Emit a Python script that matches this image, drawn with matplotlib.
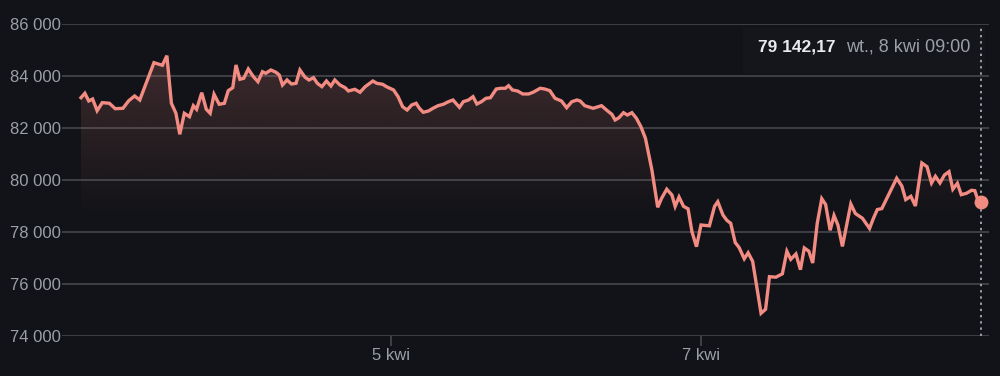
import numpy as np
import matplotlib
matplotlib.use("Agg")
import matplotlib.pyplot as plt
from matplotlib.patches import Polygon, Rectangle

# Price readings, hours counted from 3 kwi 00:00
hours = [0.0, 0.6, 1.2, 1.8, 2.5, 3.3, 4.4, 5.3, 6.5, 7.4, 8.3, 9.1, 11.3, 12.6, 13.3,
         14.0, 14.7, 15.3, 16.0, 16.8, 17.4, 17.9, 18.7, 19.4, 20.0, 20.6, 21.4, 22.2,
         22.8, 23.5, 24.0, 24.6, 25.2, 25.9, 26.7, 27.4, 28.1, 28.6, 29.4, 30.2, 30.7,
         31.2, 31.9, 32.6, 33.3, 33.9, 34.7, 35.3, 36.0, 36.6, 37.3, 38.0, 38.7, 39.3,
         40.1, 40.9, 41.4, 42.4, 43.2, 44.0, 45.2, 45.8, 46.7, 47.3, 48.4, 49.1, 49.8,
         50.5, 51.2, 51.9, 52.4, 53.0, 53.8, 54.5, 55.3, 56.1, 56.9, 57.6, 58.6, 59.2,
         60.0, 60.7, 61.3, 62.0, 62.7, 63.4, 64.3, 65.0, 65.7, 66.2, 66.8, 67.6, 68.4,
         69.3, 70.0, 71.1, 71.8, 72.6, 73.4, 74.4, 75.2, 76.0, 76.8, 77.3, 78.0, 79.3,
         80.6, 81.5, 82.2, 82.7, 83.3, 84.0, 84.6, 85.3, 86.0, 86.7, 87.4, 88.4, 89.3,
         89.9, 90.7, 91.5, 92.0, 92.6, 93.3, 94.0, 94.6, 95.3, 96.0, 97.3, 98.1, 98.6,
         99.4, 100.0, 100.6, 101.3, 101.9, 102.7, 103.3, 104.0, 105.3, 106.0, 106.6,
         107.6, 108.6, 109.3, 109.9, 110.7, 111.4, 112.0, 112.7, 113.3, 114.0, 114.7,
         115.3, 116.0, 116.6, 117.2, 117.9, 119.2, 119.9, 121.0, 122.1, 122.7, 123.3,
         124.0, 126.3, 127.1, 127.7, 128.5, 129.2, 130.2, 131.0, 131.7, 132.3, 133.0,
         133.7, 134.4, 135.0, 135.7, 136.3, 137.1, 137.9, 138.4, 139.0, 139.4]
prices = [83165, 83335, 83040, 83115, 82665, 82975, 82950, 82742, 82758, 83050, 83231,
          83077, 84512, 84412, 84781, 82950, 82566, 81758, 82566, 82435, 82858, 82719,
          83358, 82719, 82566, 83296, 82912, 82950, 83435, 83550, 84423, 83873, 83912,
          84269, 83973, 83781, 84165, 84104, 84231, 84142, 84038, 83654, 83846, 83692,
          83719, 84231, 83950, 83846, 83935, 83719, 83589, 83808, 83615, 83846, 83654,
          83550, 83423, 83488, 83373, 83589, 83808, 83719, 83681, 83589, 83462, 83204,
          82819, 82692, 82885, 82950, 82758, 82604, 82654, 82758, 82858, 82912, 83012,
          83077, 82796, 83012, 83077, 83204, 82923, 83012, 83142, 83165, 83500, 83527,
          83527, 83627, 83462, 83423, 83308, 83308, 83373, 83527, 83500, 83435, 83142,
          83038, 82781, 83012, 83077, 83038, 82858, 82758, 82858, 82665, 82527, 82308,
          82396, 82589, 82500, 82589, 82373, 82050, 81604, 80385, 78950, 79296, 79646,
          79423, 78985, 79346, 78985, 78892, 78012, 77435, 78269, 78238, 78988, 79165,
          78654, 78450, 78335, 77596, 77404, 76969, 77200, 76873, 74873, 75027, 76281,
          76262, 76392, 77258, 76950, 77154, 76550, 77385, 77262, 76808, 78335, 79281,
          79058, 78065, 78635, 78269, 77446, 79077, 78712, 78527, 78135, 78527, 78862,
          78900, 80066, 79769, 79246, 79373, 79000, 80654, 80512, 79885, 80142, 79885,
          80192, 80319, 79646, 79873, 79435, 79488, 79604, 79588, 79135, 79142.17]

tick_hours = [48, 96]
tick_labels = ["5 kwi", "7 kwi"]
y_ticks = [74000, 76000, 78000, 80000, 82000, 84000, 86000]
last_value = "79 142,17"
last_time = "wt., 8 kwi 09:00"

bg = "#121318"
line_color = "#f28b82"
grid_color = "#3c3e44"
text_color = "#9aa0a6"

plt.rcParams["font.family"] = ["Liberation Sans", "DejaVu Sans"]

fig = plt.figure(figsize=(10, 3.76), dpi=100, facecolor=bg)
ax = fig.add_axes([0.062, 0.1064, 0.9267, 0.8298], facecolor=bg)

ax.set_xlim(-2.94, 140.55)
ax.set_ylim(74000, 86000)

# gradient fill under the line
verts = [(hours[0], 74000)] + list(zip(hours, prices)) + [(hours[-1], 74000)]
clip = Polygon(verts, closed=True, facecolor="none", edgecolor="none")
ax.add_patch(clip)
yy = np.linspace(74000, 86000, 300)
alpha = np.clip((yy - 78600) / (86000 - 78600), 0, 1) * 0.24
grad = np.zeros((300, 1, 4))
grad[:, 0, 0] = 242 / 255
grad[:, 0, 1] = 139 / 255
grad[:, 0, 2] = 130 / 255
grad[:, 0, 3] = alpha
im = ax.imshow(grad, extent=[hours[0], hours[-1], 74000, 86000], origin="lower",
               aspect="auto", zorder=1)
im.set_clip_path(clip)

ax.set_yticks(y_ticks)
ax.set_yticklabels([f"{v:,}".replace(",", " ") for v in y_ticks])
ax.set_xticks(tick_hours)
ax.set_xticklabels(tick_labels)
ax.grid(axis="y", color=grid_color, linewidth=1.5)
ax.set_axisbelow(True)
for s in ax.spines.values():
    s.set_visible(False)
ax.tick_params(axis="y", length=0, pad=1, labelsize=12, labelcolor=text_color)
ax.tick_params(axis="x", length=7, width=1.5, color=grid_color, pad=2,
               labelsize=12, labelcolor=text_color)

ax.plot(hours, prices, color=line_color, linewidth=2.4, zorder=3,
        solid_joinstyle="miter")
ax.plot(hours[-1], prices[-1], "o", color=line_color, markersize=9, zorder=4)

# tooltip box sits under the dotted hover line
ax.add_patch(Rectangle((0.743, 1 - 73 / 376), 0.242, 46 / 376,
                       transform=fig.transFigure, facecolor="#15161b",
                       edgecolor="none", zorder=0.4, clip_on=False))
ax.axvline(hours[-1], ymin=0, ymax=0.99, color=text_color, linestyle=(0, (1.2, 2)),
           linewidth=1.4, zorder=2)
fig.text(0.836, 1 - 47 / 376, last_value, ha="right", va="center", fontsize=12.5,
         fontweight="bold", color="#e8eaed", zorder=6)
fig.text(0.970, 1 - 47 / 376, last_time, ha="right", va="center", fontsize=13,
         color=text_color, zorder=6)

fig.savefig("out.png", dpi=100, facecolor=bg)
